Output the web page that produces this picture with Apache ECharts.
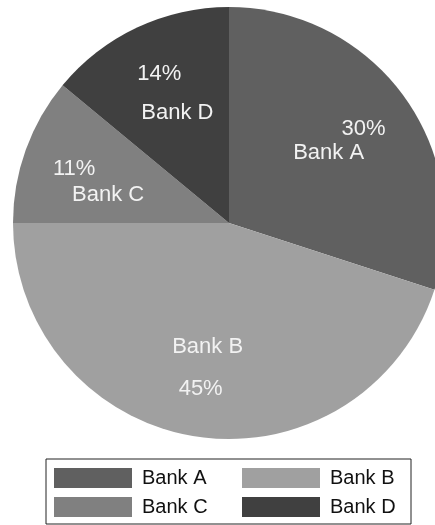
<!DOCTYPE html>
<html>
<head>
<meta charset="utf-8">
<script src="https://cdn.jsdelivr.net/npm/echarts@6/dist/echarts.min.js"></script>
<style>
html,body{margin:0;padding:0;background:#fff;}
#chart{width:435px;height:525px;}
</style>
</head>
<body>
<div id="chart"></div>
<script>
// ---- data ----
var banks = ['Bank A', 'Bank B', 'Bank C', 'Bank D'];
var shares = [30, 45, 11, 14];
var colors = ['#606060', '#a0a0a0', '#808080', '#404040'];
var legendRow1 = ['Bank A', 'Bank B'];
var legendRow2 = ['Bank C', 'Bank D'];

// ---- label arrangement (style only) ----
// pctFirst: percent on the first line; pads: [line1 padL, line1 padR, line2 padL, line2 padR]; lh: [line1, line2]
var labelArrange = {
  'Bank A': { pctFirst: true,  pads: [33, 0, 0, 37], lh: [32, 16] },
  'Bank B': { pctFirst: false, pads: [3, 0, 0, 11],  lh: [44, 40] },
  'Bank C': { pctFirst: true,  pads: [0, 35, 33, 0], lh: [42, 10] },
  'Bank D': { pctFirst: true,  pads: [0, 15, 21, 0], lh: [44, 34] }
};

var FONT = "'Liberation Sans', Arial, sans-serif";
var LABEL_COLOR = '#f2f2f2';

var mainData = banks.map(function (b, i) {
  return { name: b, value: shares[i], itemStyle: { color: colors[i] } };
});

var labelData = banks.map(function (b, i) {
  var a = labelArrange[b];
  var base = { color: LABEL_COLOR, fontSize: 22, fontFamily: FONT, align: 'center' };
  var l1 = Object.assign({}, base, { padding: [0, a.pads[1], 0, a.pads[0]], lineHeight: a.lh[0] });
  var l2 = Object.assign({}, base, { padding: [0, a.pads[3], 0, a.pads[2]], lineHeight: a.lh[1] });
  return {
    name: b,
    value: shares[i],
    label: {
      formatter: function (p) {
        var pct = Math.round(p.percent) + '%';
        return a.pctFirst ? '{l1|' + pct + '}\n{l2|' + p.name + '}'
                          : '{l1|' + p.name + '}\n{l2|' + pct + '}';
      },
      rich: { l1: l1, l2: l2 }
    }
  };
});

var chart = echarts.init(document.getElementById('chart'), null, { renderer: 'canvas' });

var legendCommon = {
  orient: 'horizontal',
  icon: 'rect',
  itemWidth: 78,
  itemHeight: 20,
  itemGap: 30,
  selectedMode: false,
  textStyle: {
    fontSize: 20,
    fontFamily: FONT,
    color: '#111',
    width: 70,
    lineHeight: 20,
    padding: [0, 0, 0, 5]
  }
};

chart.setOption({
  animation: false,
  backgroundColor: '#ffffff',
  legend: [
    Object.assign({}, legendCommon, {
      data: legendRow1,
      left: 46,
      top: 459,
      padding: [9, 11, 36, 8],
      borderColor: '#222',
      borderWidth: 1
    }),
    Object.assign({}, legendCommon, {
      data: legendRow2,
      left: 54,
      top: 497,
      padding: 0
    })
  ],
  series: [
    {
      type: 'pie',
      center: [229, 223],
      radius: [0, 216],
      startAngle: 90,
      clockwise: true,
      avoidLabelOverlap: false,
      silent: true,
      itemStyle: { borderWidth: 0 },
      label: { show: false },
      labelLine: { show: false },
      emphasis: { disabled: true },
      data: mainData
    },
    {
      type: 'pie',
      center: [229, 223],
      radius: [126, 160],
      startAngle: 90,
      clockwise: true,
      avoidLabelOverlap: false,
      silent: true,
      itemStyle: { color: 'rgba(0,0,0,0)', borderWidth: 0 },
      label: { show: true, position: 'inside' },
      labelLine: { show: false },
      emphasis: { disabled: true },
      data: labelData
    }
  ]
});
</script>
</body>
</html>
